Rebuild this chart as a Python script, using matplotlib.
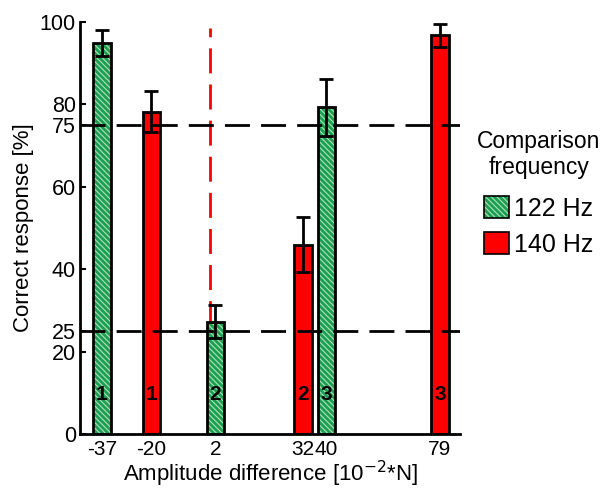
import matplotlib
matplotlib.use("Agg")
import matplotlib.pyplot as plt
from matplotlib.patches import Patch
from matplotlib.legend_handler import HandlerTuple

plt.rcParams['font.family'] = ['Liberation Sans', 'DejaVu Sans']
plt.rcParams['hatch.linewidth'] = 0.8

# data
amp_diff = [-37, -20, 2, 32, 40, 79]
correct = [95.0, 78.2, 27.3, 46.0, 79.3, 96.8]
err = [3.2, 5.0, 4.0, 6.7, 7.0, 2.8]
freq = ["122", "140", "122", "140", "122", "140"]
subject = ["1", "1", "2", "2", "3", "3"]
yticks = [0, 20, 25, 40, 60, 75, 80, 100]

GREEN = "#1e9e50"
HATCH = "#a9e3bd"
RED = "#ff0000"
W = 6.0
HP = "\\\\\\\\\\\\"

fig = plt.figure(figsize=(6.01, 4.91), dpi=100)
ax = fig.add_axes([0.133, 0.116, 0.633, 0.839])

ax.axvline(0, color=RED, ls=(0, (9, 4)), lw=2, ymax=0.985, zorder=1)
for y in (75, 25):
    ax.axhline(y, color="black", ls=(0, (9, 4)), lw=2, zorder=4)

for x, v, e, f, s in zip(amp_diff, correct, err, freq, subject):
    if f == "122":
        ax.bar(x, v, width=W, color=GREEN, edgecolor=HATCH, hatch=HP,
               lw=0, zorder=2)
    else:
        ax.bar(x, v, width=W, color=RED, lw=0, zorder=2)
    ax.bar(x, v, width=W, fill=False, edgecolor="black", lw=2, zorder=3)
    ax.errorbar(x, v, yerr=e, color="black", lw=2, capsize=5, capthick=2,
                zorder=5)
    ax.text(x, 9.5, s, ha="center", va="center", fontsize=15,
            fontweight="bold", zorder=6)

ax.set_xlim(-44.5, 86)
ax.set_ylim(0, 100)
ax.set_xticks(amp_diff)
ax.set_xticklabels([str(a) for a in amp_diff])
ax.set_yticks(yticks)
ax.tick_params(axis="x", length=0, labelsize=15, pad=4)
ax.tick_params(axis="y", direction="in", length=4, width=1.5, labelsize=15.5,
               pad=3)
for sp in ("top", "right"):
    ax.spines[sp].set_visible(False)
for sp in ("left", "bottom"):
    ax.spines[sp].set_linewidth(2)

ax.set_xlabel(r"Amplitude difference [10$^{-2}$*N]", fontsize=16, labelpad=0)
ax.set_ylabel("Correct response [%]", fontsize=16, labelpad=4)

h122 = (Patch(facecolor=GREEN, edgecolor=HATCH, hatch=HP, lw=0),
        Patch(fill=False, edgecolor="black", lw=1.2))
h140 = Patch(facecolor=RED, edgecolor="black", lw=1.2)
leg = ax.legend([h122, h140], ["122 Hz", "140 Hz"],
                handler_map={tuple: HandlerTuple(ndivide=1, pad=0)},
                title="Comparison\nfrequency", fontsize=18, title_fontsize=16.5,
                frameon=False, loc="center left", bbox_to_anchor=(0.985, 0.585),
                handlelength=1.0, handleheight=1.0, handletextpad=0.2,
                labelspacing=0.45)
leg.get_title().set_multialignment("center")
leg._legend_box.sep = 12

fig.savefig("out.png", dpi=100)
